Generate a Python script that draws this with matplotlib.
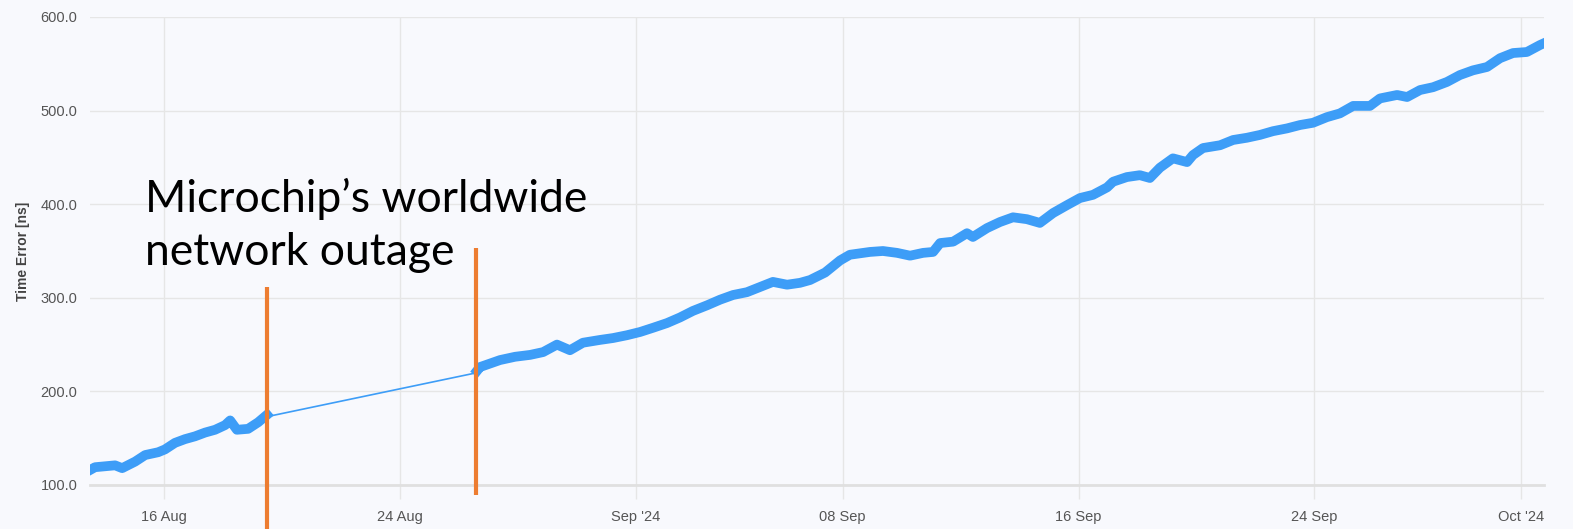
import pandas as pd
import matplotlib
matplotlib.use("Agg")
import matplotlib.pyplot as plt

# days after 2024-08-13 00:00, and time error in ns
start = pd.Timestamp("2024-08-13")
days_before = [0.49, 0.66, 1.0, 1.34, 1.58, 2.02, 2.36, 2.80, 3.03, 3.37, 3.71, 4.05,
               4.39, 4.73, 5.07, 5.24, 5.47, 5.85, 6.19, 6.49]
te_before = [116, 119, 120, 121, 118, 125, 132, 135, 138, 145, 149, 152,
             156, 159, 164, 169, 159, 160, 167, 175]

days_after = [13.61, 13.71, 14.39, 14.90, 15.41, 15.85, 16.32, 16.76, 17.20, 17.78,
              18.22, 18.69, 19.14, 19.58, 20.05, 20.49, 20.93, 21.41, 21.85, 22.29,
              22.76, 23.20, 23.64, 24.12, 24.56, 24.90, 25.41, 25.92, 26.25, 26.93,
              27.37, 27.85, 28.29, 28.73, 29.07, 29.31, 29.75, 30.22, 30.42, 30.90,
              31.34, 31.78, 32.25, 32.69, 33.14, 33.61, 34.05, 34.49, 34.97, 35.17,
              35.64, 36.08, 36.42, 36.76, 37.20, 37.68, 37.88, 38.22, 38.80, 39.24,
              39.71, 40.15, 40.59, 41.07, 41.51, 41.95, 42.42, 42.86, 43.31, 43.88,
              44.22, 44.80, 45.14, 45.58, 46.02, 46.49, 46.93, 47.37, 47.85, 48.29,
              48.73, 49.20, 49.64, 49.78]
te_after = [222, 226, 233.5, 237, 239, 242, 250, 244, 252, 255,
            257, 260, 263.5, 268, 273, 279, 286, 292, 298, 303,
            306, 311.5, 317, 314, 316, 319, 327, 340, 346, 349,
            350, 348, 345, 348, 349, 358.5, 360, 369, 365, 374.5,
            381, 386, 384, 380, 390.6, 399, 406.6, 410, 418, 424,
            429, 431, 428, 439, 449, 445, 452.5, 460, 463, 468.6,
            471, 474, 478, 481, 484.6, 487, 493, 497, 505, 505,
            513, 516.7, 514.5, 522, 525, 530.6, 538, 543, 546.6, 556,
            561.5, 562.6, 570, 572]

tick_dates = ["2024-08-16", "2024-08-24", "2024-09-01", "2024-09-08",
              "2024-09-16", "2024-09-24", "2024-10-01"]
tick_labels = ["16 Aug", "24 Aug", "Sep '24", "08 Sep", "16 Sep", "24 Sep", "Oct '24"]
y_ticks = [100, 200, 300, 400, 500, 600]

# outage markers: (day, bottom, top) in data units
outage_marks = [(6.49, 53, 311.5), (13.58, 89, 353)]

t_before = start + pd.to_timedelta(days_before, unit="D")
t_after = start + pd.to_timedelta(days_after, unit="D")

bg = "#f8f9fd"
blue = "#3d9df7"
orange = "#ed7d31"
tick_font = "Liberation Sans"

fig = plt.figure(figsize=(15.73, 5.29), dpi=100, facecolor=bg)
ax = fig.add_axes([90 / 1573, 44 / 529, 1454 / 1573, 468 / 529])
ax.set_facecolor(bg)

ax.plot(t_before, te_before, color=blue, lw=7, solid_joinstyle="round", zorder=3)
ax.plot(t_after, te_after, color=blue, lw=7, solid_joinstyle="round", zorder=3)
ax.plot([t_before[-1], t_after[0]], [te_before[-1] - 2, te_after[0] - 2], color=blue, lw=1.2, zorder=3)

for d, lo, hi in outage_marks:
    t = start + pd.Timedelta(days=d)
    ax.plot([t, t], [lo, hi], color=orange, lw=3, clip_on=False, zorder=4,
            solid_capstyle="butt")

ax.set_ylim(100, 600)
ax.set_xlim(start + pd.Timedelta(days=0.49), start + pd.Timedelta(days=49.78))
ax.set_yticks(y_ticks)
ax.set_yticklabels([f"{v:.1f}" for v in y_ticks], family=tick_font)
ax.set_xticks(pd.to_datetime(tick_dates))
ax.set_xticklabels(tick_labels, family=tick_font)

ax.grid(True, color="#e6e6e6", lw=1)
ax.set_axisbelow(True)
for s in ["top", "right", "left"]:
    ax.spines[s].set_visible(False)
ax.spines["bottom"].set_color("#e0e0e0")
ax.spines["bottom"].set_linewidth(2)
ax.tick_params(axis="y", length=0, pad=9, labelsize=10.5, labelcolor="#555555")
ax.tick_params(axis="x", length=10, width=1, color="#e6e6e6", pad=8,
               labelsize=10.5, labelcolor="#555555")
ax.set_ylabel("Time Error [ns]", family=tick_font, fontsize=10, fontweight="bold",
              color="#444444", labelpad=8)

fig.text(145 / 1573, 1 - 212 / 529, "Microchip\u2019s worldwide", family="Lato",
         fontsize=32, color="black", va="baseline", ha="left")
fig.text(145 / 1573, 1 - 265 / 529, "network outage", family="Lato",
         fontsize=32, color="black", va="baseline", ha="left")

fig.savefig("out.png", dpi=100, facecolor=bg)
